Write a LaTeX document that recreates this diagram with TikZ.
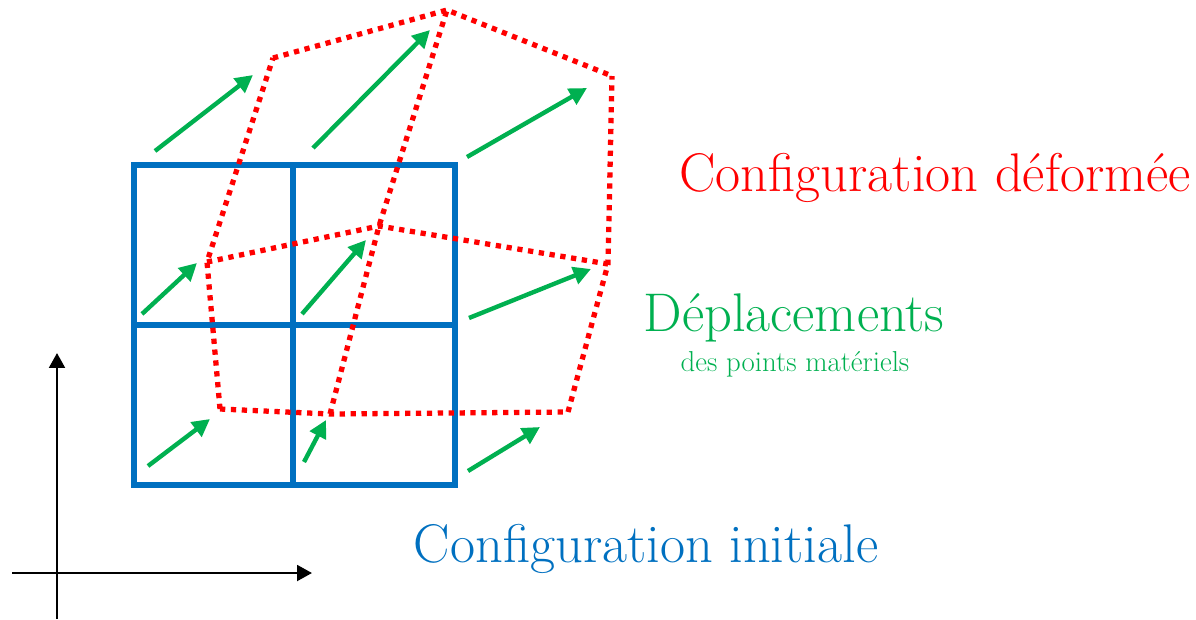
\documentclass[tikz,border=0pt]{standalone}
\usepackage{tikz}
\usetikzlibrary{arrows.meta}
\usepackage{xcolor}
\definecolor{cfgblue}{HTML}{0070C0}
\definecolor{cfgred}{HTML}{FF0000}
\definecolor{cfggreen}{HTML}{00B050}

\begin{document}
\begin{tikzpicture}[x=0.02cm, y=-0.02cm,
  grid/.style={draw=cfgblue, line width=3.2pt},
  deformed/.style={draw=cfgred, line width=3pt, dash pattern=on 3pt off 3.2pt},
  displ/.style={draw=cfggreen, line width=2.5pt, -{Triangle[length=10pt, width=10pt]}},
  axis/.style={draw=black, line width=1.4pt, -{Triangle[length=8.5pt, width=9pt]}},
  label/.style={inner sep=0pt, anchor=base}
]
\useasboundingbox (0,0) rectangle (1196,619);

% Axes
\coordinate (ybot) at (57,619);
\coordinate (ytop) at (57,353);
\coordinate (xleft) at (12,573);
\coordinate (xright) at (312,573);
\draw[axis] (ybot) -- (ytop);
\draw[axis] (xleft) -- (xright);

% Initial configuration
\draw[grid] (134,165) rectangle (455,485);
\draw[grid] (293,165) -- (293,485);
\draw[grid] (134,325) -- (455,325);

% Deformed configuration
\coordinate (d11) at (220,409);
\coordinate (d12) at (330,414);
\coordinate (d13) at (568,412);
\coordinate (d21) at (207,262);
\coordinate (d22) at (379,226);
\coordinate (d23) at (608,264);
\coordinate (d31) at (273,58);
\coordinate (d32) at (447,10);
\coordinate (d33) at (612,76);

\draw[deformed] (d11) -- (d12) -- (d13);
\draw[deformed] (d21) -- (d22) -- (d23);
\draw[deformed] (d31) -- (d32) -- (d33);
\draw[deformed] (d11) -- (d21) -- (d31);
\draw[deformed] (d12) -- (d22) -- (d32);
\draw[deformed] (d13) -- (d23) -- (d33);

% Displacements
\coordinate (s11) at (148,466);
\coordinate (t11) at (210,419);
\coordinate (s12) at (304,462);
\coordinate (t12) at (326,420);
\coordinate (s13) at (468,471);
\coordinate (t13) at (540,427);
\coordinate (s21) at (142,314);
\coordinate (t21) at (197,263);
\coordinate (s22) at (302,314);
\coordinate (t22) at (366,240);
\coordinate (s23) at (469,318);
\coordinate (t23) at (591,269);
\coordinate (s31) at (155,151);
\coordinate (t31) at (253,75);
\coordinate (s32) at (313,148);
\coordinate (t32) at (430,30);
\coordinate (s33) at (467,157);
\coordinate (t33) at (587,88);

\draw[displ] (s11) -- (t11);
\draw[displ] (s12) -- (t12);
\draw[displ] (s13) -- (t13);
\draw[displ] (s21) -- (t21);
\draw[displ] (s22) -- (t22);
\draw[displ] (s23) -- (t23);
\draw[displ] (s31) -- (t31);
\draw[displ] (s32) -- (t32);
\draw[displ] (s33) -- (t33);

% Labels
\node[label, text=cfgred, font=\fontsize{31}{36}\selectfont] (deflabel) at (935,191) {Configuration déformée};
\node[label, text=cfggreen, font=\fontsize{31}{36}\selectfont] (displabel) at (794,331) {Déplacements};
\node[label, text=cfggreen, font=\fontsize{16.4}{20}\selectfont] (pointslabel) at (795,371) {des points matériels};
\node[label, text=cfgblue, font=\fontsize{31}{36}\selectfont] (initlabel) at (646,562) {Configuration initiale};

\end{tikzpicture}
\end{document}
